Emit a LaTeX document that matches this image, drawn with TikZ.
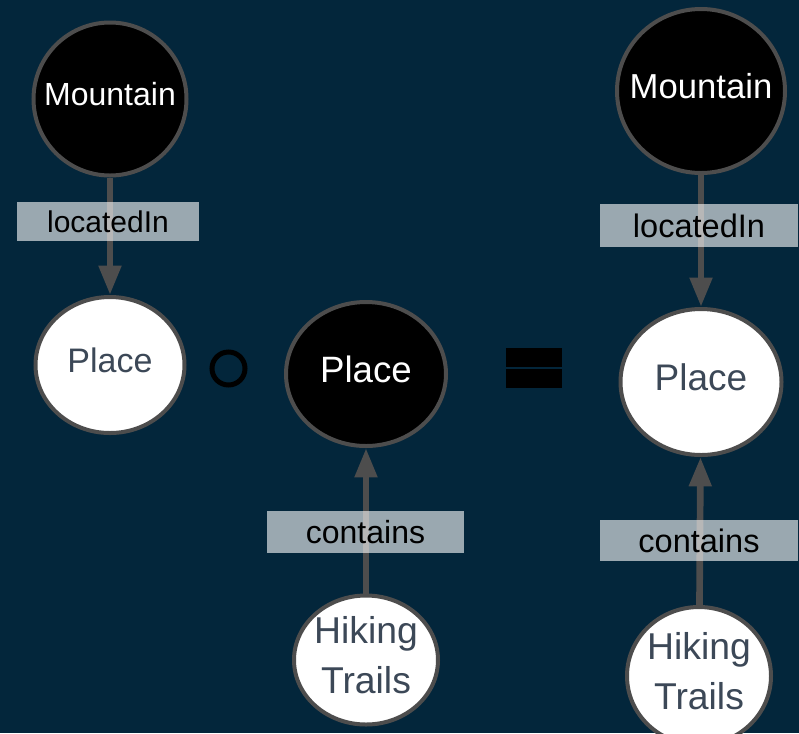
\documentclass[tikz,border=0pt]{standalone}
\usepackage{fontspec}
\setmainfont{Liberation Sans}
\usetikzlibrary{shapes.geometric,arrows.meta}

\definecolor{bg}{HTML}{03263B}
\definecolor{rim}{HTML}{4D4D4D}
\definecolor{ink}{HTML}{3C4857}

% text of a concept, centred without widening the ellipse, set a bit high
\newcommand{\cname}[1]{\raisebox{3.5pt}[\height][\depth]{\makebox[0pt]{#1}}}

\tikzset{
	concept/.style={ellipse, draw=rim, line width=3pt, inner sep=0pt},
	dark/.style={concept, fill=black, text=white},
	light/.style={concept, fill=white, text=ink},
	rel/.style={rectangle, fill=white, fill opacity=.6, text opacity=1, text=black, inner sep=0pt},
	link/.style={draw=rim, line width=5pt, -{Triangle[length=22pt, width=16pt]}},
	bar/.style={rectangle, fill=black, inner sep=0pt, minimum width=42pt, minimum height=14.25pt},
}

\begin{document}
\begin{tikzpicture}[x=.75pt, y=-.75pt]
	\useasboundingbox (0, 0) rectangle (799, 733);
	\fill [bg] (0, 0) rectangle (799, 733);
	
	% 左: Mountain -> Place
	\node [dark, minimum width=114.75pt, minimum height=114.75pt, font=\fontsize{24}{29}\selectfont] (m1) at (110, 99) {\cname{Mountain}};
	\node [light, minimum width=111.75pt, minimum height=102pt, font=\fontsize{25.5}{31}\selectfont] (p1) at (110, 365) {\cname{Place}};
	\draw [link] (m1) -- (p1);
	\node [rel, minimum width=136.5pt, minimum height=29.25pt, font=\fontsize{22.5}{27}\selectfont] (r1) at (108, 221.5) {locatedIn};
	
	% 复合符号
	\node [circle, draw=black, line width=3.75pt, minimum size=24.75pt, inner sep=0pt] (comp) at (228.5, 368.5) {};
	
	% 中: Hiking Trails -> Place
	\node [dark, minimum width=120pt, minimum height=108pt, font=\fontsize{27.5}{33}\selectfont] (p2) at (366, 374) {\cname{Place}};
	\node [light, minimum width=108pt, minimum height=96.75pt, align=center, font=\fontsize{28}{37.5}\selectfont] (h2) at (366, 660) {\cname{Hiking}\\\cname{Trails}};
	\draw [link] (h2) -- (p2);
	\node [rel, minimum width=147.75pt, minimum height=31.5pt, font=\fontsize{24}{29}\selectfont] (r2) at (365.5, 532) {contains};
	
	% 等号
	\node [bar] (eqa) at (534, 357.5) {};
	\node [bar] (eqb) at (534, 378.5) {};
	
	% 右: 结果
	\node [dark, minimum width=126pt, minimum height=123pt, font=\fontsize{26}{31}\selectfont] (m3) at (701, 91) {\cname{Mountain}};
	\node [light, minimum width=120.75pt, minimum height=109.5pt, font=\fontsize{27.75}{33}\selectfont] (p3) at (701, 382) {\cname{Place}};
	\node [light, minimum width=108pt, minimum height=103.5pt, align=center, font=\fontsize{28}{37.5}\selectfont] (h3) at (699, 676) {\cname{Hiking}\\\cname{Trails}};
	\draw [link] (m3) -- (p3);
	\draw [link] (h3) -- (p3);
	\node [rel, minimum width=148.5pt, minimum height=32.25pt, font=\fontsize{24.4}{29}\selectfont] (r3) at (699, 225.5) {locatedIn};
	\node [rel, minimum width=148.5pt, minimum height=30.75pt, font=\fontsize{24.4}{29}\selectfont] (r4) at (699, 540.5) {contains};
\end{tikzpicture}
\end{document}
